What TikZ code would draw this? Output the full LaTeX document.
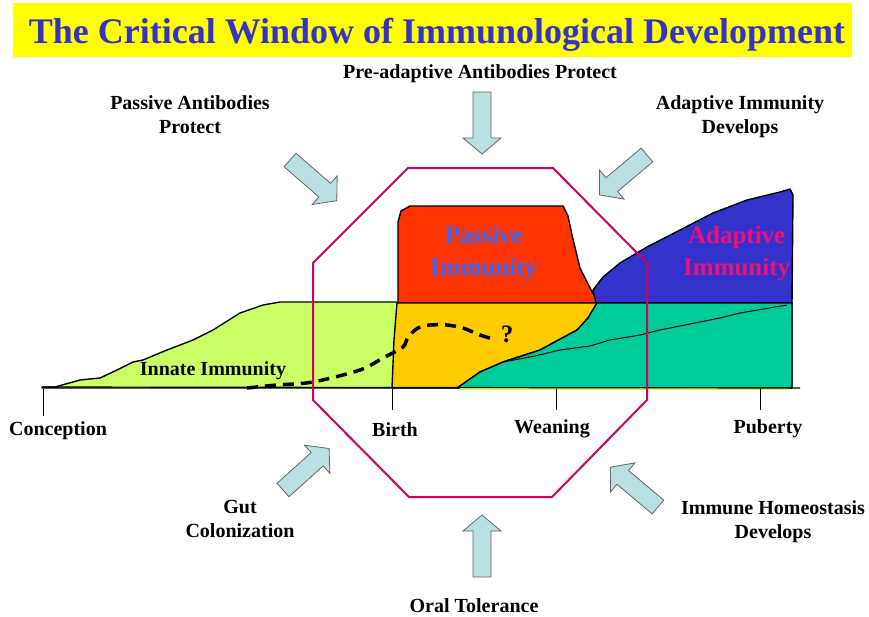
\documentclass[tikz,border=0pt]{standalone}
\usepackage{fontspec}
\setmainfont{Liberation Serif}
\usepackage{xcolor}
\definecolor{titlebar}{HTML}{FFFF00}
\definecolor{titleblue}{HTML}{3333CC}
\definecolor{innate}{HTML}{CCFF66}
\definecolor{passive}{HTML}{FF3300}
\definecolor{overlap}{HTML}{FFCC00}
\definecolor{tolerant}{HTML}{00CC99}
\definecolor{adaptive}{HTML}{3333CC}
\definecolor{passivetxt}{HTML}{3366FF}
\definecolor{adaptivetxt}{HTML}{EE1177}
\definecolor{window}{HTML}{CC0066}
\definecolor{arrowfill}{HTML}{B9DFE2}

\tikzset{
  lbl/.style={font=\fontsize{20}{24}\selectfont\bfseries, align=center, anchor=base, inner sep=0pt},
  area/.style={draw=black, line width=1.4pt, line join=round},
  blockarrow/.pic={
    \draw[fill=arrowfill, draw=black!60, line width=0.8pt]
      (0,-9) -- (46,-9) -- (46,-19) -- (62,0) -- (46,19) -- (46,9) -- (0,9) -- cycle;
  }
}

\begin{document}
\begin{tikzpicture}[x=1pt,y=-1pt]
  \useasboundingbox (0,0) rectangle (869,616);
  % Title bar
  \fill[titlebar] (13,3) rectangle (852,57);
  \node[anchor=base, inner sep=0pt, text=titleblue, font=\fontsize{36}{40}\selectfont\bfseries]
    (title) at (437,43) {The Critical Window of Immunological Development};
  % Innate immunity ramp
  \draw[area, fill=innate] (42,387) -- (55,387) -- (80,380) -- (100,378) -- (117,370) -- (133,362)
    -- (143,360) -- (167,350) -- (193,340) -- (213,330) -- (240,313) -- (263,305) -- (280,302)
    -- (792,302) -- (792,388) -- (42,388) -- cycle;
  % Passive immunity block
  \draw[area, fill=passive] (398,303) -- (398,222) -- (401,211) -- (410,206) -- (563,206)
    -- (568,216) -- (572,235) -- (580,268) -- (587,282) -- (598,303) -- cycle;
  % Adaptive immunity
  \draw[area, fill=adaptive] (596,303) -- (593,290) -- (603,277) -- (620,263) -- (647,247)
    -- (680,230) -- (713,213) -- (747,200) -- (780,192) -- (790,189) -- (793,195)
    -- (792,303) -- cycle;
  % Overlap of passive and innate
  \draw[area, fill=overlap] (397,303) -- (597,303) -- (588,318) -- (577,330) -- (540,350)
    -- (503,362) -- (480,372) -- (457,388) -- (392,388) -- (394,340) -- cycle;
  % Tolerance region
  \draw[area, fill=tolerant] (597,303) -- (792,303) -- (792,388) -- (457,388) -- (480,372)
    -- (503,362) -- (540,350) -- (577,330) -- (588,318) -- cycle;
  \draw[line width=1pt] (503,362) -- (535,356) -- (560,350) -- (590,346) -- (610,340) -- (640,335)
    -- (660,330) -- (700,322) -- (720,318) -- (740,313) -- (787,305);
  \draw[innate, line width=1.5pt] (460,389) -- (790,389);
  % Time axis and ticks
  \draw[line width=1.2pt] (42,387) -- (800,388);
  \foreach \x/\y in {43/416,392/410,556/410,760/410}
    \draw[line width=1pt] (\x,389) -- (\x,\y);
  \node[lbl] (conception) at (58,435) {Conception};
  \node[lbl] (birth) at (395,436) {Birth};
  \node[lbl] (weaning) at (552,433) {Weaning};
  \node[lbl] (puberty) at (768,433) {Puberty};
  % Region labels
  \node[lbl] (innatetxt) at (213,375) {Innate Immunity};
  \node[lbl, anchor=base west, text=passivetxt, font=\fontsize{25}{32}\selectfont\bfseries]
    (passivetxt) at (430,275) {Passive\\Immunity};
  \node[lbl, anchor=base west, text=adaptivetxt, font=\fontsize{25}{32}\selectfont\bfseries]
    (adaptivetxt) at (683,275) {Adaptive\\Immunity};
  % Uncertain path
  \draw[line width=3.5pt, dash pattern=on 11pt off 7pt] plot[smooth, tension=0.5] coordinates
    {(247,388) (277,385) (313,382) (360,370) (383,358) (403,347) (408,337) (418,328)
     (430,325) (447,325) (463,328) (480,335) (493,339)};
  \node[lbl, font=\fontsize{25}{30}\selectfont\bfseries] (question) at (507,342) {?};
  % Critical window
  \draw[window, line width=2pt, line join=round] (408,168) -- (553,168) -- (647,263) -- (647,400)
    -- (552,497) -- (409,497) -- (313,400) -- (313,263) -- cycle;
  % Influences pointing into the window
  \foreach \p/\a in {(482,92)/-90,(290,160)/-41,(647,155)/-140,(283,490)/42,(482,577)/90,(658,507)/140}
    \pic[rotate=\a] at \p {blockarrow};
  \node[lbl] (preadaptive) at (480,78) {Pre-adaptive Antibodies Protect};
  \node[lbl] (passiveab) at (190,133) {Passive Antibodies\\Protect};
  \node[lbl] (adaptivedev) at (740,133) {Adaptive Immunity\\Develops};
  \node[lbl] (gut) at (240,537) {Gut\\Colonization};
  \node[lbl] (homeostasis) at (773,538) {Immune Homeostasis\\Develops};
  \node[lbl] (oral) at (474,612) {Oral Tolerance};
\end{tikzpicture}
\end{document}
